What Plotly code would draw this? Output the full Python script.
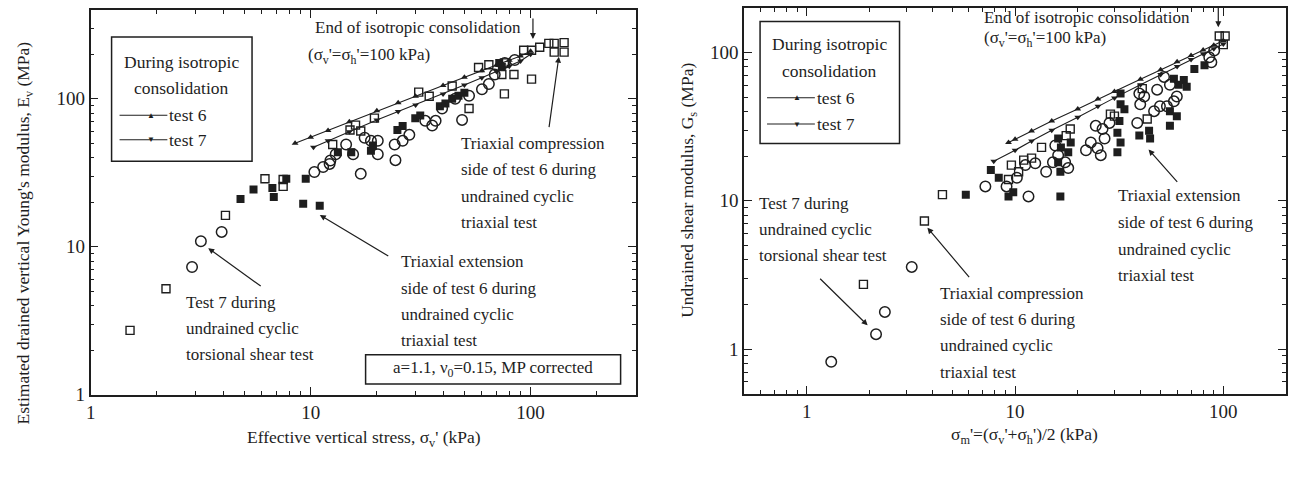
import math
import plotly.graph_objects as go

# ---------------- data ----------------
# Left panel: estimated drained vertical Young's modulus Ev (MPa) vs sigma_v' (kPa)
L_t6_x = [8.5, 10, 12, 15, 20, 25, 30, 40, 50, 60, 70, 80, 90, 100]
L_t6_y = [50, 55, 61, 70, 83, 94, 104, 123, 140, 155, 169, 182, 195, 210]
L_t7_x = [10.3, 12, 15, 20, 25, 30, 40, 50, 60, 70, 80, 90, 100]
L_t7_y = [47, 52, 60, 72, 82, 91, 108, 124, 139, 153, 166, 180, 200]

L_comp_x = [1.51, 2.2, 4.1, 6.2, 7.5, 7.5, 12.6, 15.1, 16.0, 16.9, 19.5, 31, 34.6, 44, 52.5,
            58, 64.6, 74, 76, 84, 101, 76, 93, 101, 110, 121, 128, 142, 128, 142]
L_comp_y = [2.72, 5.2, 16.3, 28.8, 25.6, 28.5, 49.1, 61.5, 66.4, 60.6, 74, 111, 104, 122, 86,
            163, 170, 146, 108, 146, 136, 175, 213, 213, 223, 237, 237, 240, 207, 207]

L_ext_x = [4.8, 5.5, 6.7, 6.8, 7.75, 9.5, 9.25, 11.0, 13.3, 15.3, 18.8, 19.2, 24.8, 26.2,
           29.9, 31.5, 38.7, 41, 44, 47, 50, 72, 74]
L_ext_y = [21, 24.4, 25, 21.7, 28.8, 28.8, 19.5, 18.9, 43.5, 43.5, 44.5, 48.3, 61.5, 65.5,
           74, 77, 89, 93, 100, 105, 110, 175, 165]

L_tor_x = [2.89, 3.17, 3.94, 10.4, 11.4, 12.3, 12.2, 13.0, 14.5, 15.6, 16.9, 17.6, 18.8, 20.2,
           20.2, 24.3, 24.1, 26.2, 28.1, 33.2, 35.7, 37, 48.8, 39.6, 45.4, 52.5, 60.1, 64.6,
           68.7, 76.3, 84.7]
L_tor_y = [7.3, 10.9, 12.6, 32, 34.6, 38.3, 36.3, 42.2, 49.1, 42.2, 31.1, 54.6, 52.1, 52.1,
           42.2, 38.5, 49.1, 52.0, 57.1, 71, 66, 71, 72, 86, 100, 105, 116, 126,
           146, 175, 183]

# Right panel: undrained shear modulus Gs (MPa) vs sigma_m' (kPa)
R_t6_x = [9.3, 10, 12, 15, 20, 25, 30, 40, 50, 60, 70, 80, 90, 100]
R_t6_y = [24.7, 26, 29.5, 34.5, 41.5, 48.5, 54.5, 66, 76.5, 86.5, 95.5, 104, 112, 120]
R_t7_x = [7.9, 10, 12, 15, 20, 25, 30, 40, 50, 60, 70, 80, 90, 100]
R_t7_y = [18.5, 21.9, 25.3, 29.9, 36.6, 43.3, 49.4, 60.6, 70.9, 80.5, 89.5, 98, 106, 114]

R_comp_x = [1.87, 3.67, 4.48, 9.3, 9.6, 11.0, 12.0, 10.4, 13.4, 17.6, 18.4, 95.6, 102, 100,
            28.7, 30.0, 40.8, 43.1]
R_comp_y = [2.73, 7.3, 11.0, 13.9, 17.4, 18.8, 19.4, 15.7, 22.9, 27.5, 30.5, 129, 129, 113,
            38.4, 37.2, 57.0, 35.6]

R_tor_x = [1.31, 2.15, 2.37, 3.19, 7.2, 9.1, 10.2, 11.2, 12.5, 11.6, 14.1, 15.2, 15.6, 16.1,
           17.4, 18.0, 21.9, 23.1, 24.4, 24.9, 25.8, 26.3, 26.9, 28.4, 38.6, 39.5, 39.9, 41.7,
           46.5, 48.1, 49.6, 51.9, 53.6, 55.4, 57.9, 59.8, 85.6, 87.6, 90.4]
R_tor_y = [0.82, 1.26, 1.78, 3.58, 12.5, 12.5, 14.3, 17.4, 17.9, 10.7, 15.7, 18.2, 23.6, 20.3,
           18.2, 16.6, 21.9, 24.7, 32.0, 22.6, 20.3, 30.5, 26.3, 33.5, 33.5, 52.8, 44.7, 50.5,
           40.2, 56.1, 43.4, 68.4, 43.4, 60.6, 46.8, 50.5, 92.7, 85.9, 103]

R_ext_x = [5.8, 7.65, 8.35, 9.3, 9.8, 16.1, 18.5, 16.6, 18.0, 16.1, 16.5, 16.5, 31.0, 31.7,
           32.1, 32.1, 33.5, 31.0, 32.1, 39.5, 44.0, 44.5, 55.4, 55.4, 59.8, 57.9, 64.6, 66.7,
           61.1, 72.6, 81.2]
R_ext_y = [11.0, 16.1, 14.3, 10.7, 11.4, 26.3, 24.7, 22.9, 21.2, 18.2, 15.7, 10.7, 21.2, 34.5,
           52.8, 44.7, 41.4, 28.7, 24.7, 27.5, 29.7, 26.3, 32.0, 40.2, 37.2, 66.4, 65.3, 58.7,
           60.6, 77.3, 82]

MAJOR_TICKS = [1, 10, 100]

# ---------------- figure ----------------
W, H = 1292, 477
FONT = "Liberation Serif"
INK = "#1e1e1e"


def px(x, y):
    return x / W, 1 - y / H


fig = go.Figure()

open_sq = dict(symbol="square-open", size=8, color=INK, line=dict(width=1.4, color=INK))
filled_sq = dict(symbol="square", size=8, color=INK)
open_ci = dict(symbol="circle-open", size=10.5, color=INK, line=dict(width=1.5, color=INK))

for xa, ya, comp, ext, tor, t6, t7 in [
    ("x", "y", (L_comp_x, L_comp_y), (L_ext_x, L_ext_y), (L_tor_x, L_tor_y),
     (L_t6_x, L_t6_y), (L_t7_x, L_t7_y)),
    ("x2", "y2", (R_comp_x, R_comp_y), (R_ext_x, R_ext_y), (R_tor_x, R_tor_y),
     (R_t6_x, R_t6_y), (R_t7_x, R_t7_y)),
]:
    fig.add_trace(go.Scatter(x=t6[0], y=t6[1], mode="lines+markers", xaxis=xa, yaxis=ya,
                             line=dict(color=INK, width=1.1),
                             marker=dict(symbol="triangle-up", size=6, color=INK),
                             showlegend=False))
    fig.add_trace(go.Scatter(x=t7[0], y=t7[1], mode="lines+markers", xaxis=xa, yaxis=ya,
                             line=dict(color=INK, width=1.1),
                             marker=dict(symbol="triangle-down", size=6, color=INK),
                             showlegend=False))
    fig.add_trace(go.Scatter(x=ext[0], y=ext[1], mode="markers", xaxis=xa, yaxis=ya,
                             marker=filled_sq, showlegend=False))
    fig.add_trace(go.Scatter(x=comp[0], y=comp[1], mode="markers", xaxis=xa, yaxis=ya,
                             marker=open_sq, showlegend=False))
    fig.add_trace(go.Scatter(x=tor[0], y=tor[1], mode="markers", xaxis=xa, yaxis=ya,
                             marker=open_ci, showlegend=False))

minor_vals = [m * 10 ** k for k in range(-1, 3) for m in range(2, 10)]


def axis(domain, rng):
    return dict(type="log", domain=domain, range=rng, showgrid=False, zeroline=False,
                showline=True, linecolor=INK, linewidth=1.6, mirror="ticks",
                ticks="inside", ticklen=8, tickwidth=1.3, tickcolor=INK,
                tickvals=MAJOR_TICKS, ticktext=[str(v) for v in MAJOR_TICKS],
                tickfont=dict(family=FONT, size=19, color=INK),
                minor=dict(ticks="inside", ticklen=4, tickwidth=1, tickcolor=INK,
                           tickvals=minor_vals, showgrid=False))


fig.update_layout(
    width=W, height=H, margin=dict(l=0, r=0, t=0, b=0),
    paper_bgcolor="white", plot_bgcolor="white",
    xaxis=axis([86 / W, 633 / W], [0, math.log10(300)]),
    yaxis=axis([1 - 404 / H, 1 - 10 / H], [0, math.log10(400)]),
    xaxis2=axis([742 / W, 1286 / W], [math.log10(0.5), math.log10(200)]),
    yaxis2=axis([1 - 403 / H, 1 - 8 / H], [math.log10(0.5), math.log10(200)]),
)
fig.layout.xaxis.anchor = "y"
fig.layout.yaxis.anchor = "x"
fig.layout.xaxis2.anchor = "y2"
fig.layout.yaxis2.anchor = "x2"

ann = []
TS = 17


def text(x, y, s, size=TS, anchor="left", angle=0):
    X, Y = px(x, y)
    ann.append(dict(x=X, y=Y, xref="paper", yref="paper", text=s, showarrow=False,
                    xanchor=anchor, yanchor="middle", textangle=angle,
                    font=dict(family=FONT, size=size, color=INK)))


def lines(x, y0, dy, rows, size=TS):
    for i, r in enumerate(rows):
        text(x, y0 + i * dy, r, size)


def arrow(hx, hy, tx, ty):
    X, Y = px(hx, hy)
    ann.append(dict(x=X, y=Y, xref="paper", yref="paper", text="", showarrow=True,
                    ax=tx - hx, ay=ty - hy, axref="pixel", ayref="pixel",
                    arrowhead=2, arrowsize=1, arrowwidth=1.2, arrowcolor=INK))


# axis titles
text(20, 238, "Estimated drained vertical Young's modulus, E<sub>v</sub> (MPa)", 17.5, "center", -90)
text(360, 449, "Effective vertical stress, σ<sub>v</sub>' (kPa)", 17.5, "center")
text(686, 195, "Undrained shear modulus, G<sub>s</sub> (MPa)", 17.5, "center", -90)
text(1023, 446, "σ<sub>m</sub>'=(σ<sub>v</sub>'+σ<sub>h</sub>')/2 (kPa)", 17.5, "center")

# left panel notes
text(309, 28, "End of isotropic consolidation")
text(302, 57, "(σ<sub>v</sub>'=σ<sub>h</sub>'=100 kPa)")
arrow(530, 40, 530, 18)
lines(456, 147, 27, ["Triaxial compression", "side of test 6 during",
                     "undrained cyclic", "triaxial test"])
arrow(556, 58, 546, 130)
lines(396, 268, 27, ["Triaxial extension", "side of test 6 during",
                     "undrained cyclic", "triaxial test"])
arrow(316, 220, 386, 262)
lines(180, 310, 26.5, ["Test 7 during", "undrained cyclic", "torsional shear test"])
arrow(204, 254, 258, 293)
text(490, 378, "a=1.1, ν<sub>0</sub>=0.15, MP corrected", TS, "center")

# right panel notes
text(981, 18, "End of isotropic consolidation")
text(981, 40, "(σ<sub>v</sub>'=σ<sub>h</sub>'=100 kPa)")
arrow(1218, 28, 1218, 6)
lines(1115, 200, 27.5, ["Triaxial extension", "side of test 6 during",
                        "undrained cyclic", "triaxial test"])
arrow(1148, 153, 1178, 187)
lines(937, 300, 27, ["Triaxial compression", "side of test 6 during",
                     "undrained cyclic", "triaxial test"])
arrow(926, 233, 969, 284)
lines(755, 208, 27, ["Test 7 during", "undrained cyclic", "torsional shear test"])
arrow(866, 333, 817, 285)

# legend boxes (drawn)
shapes = []


def rect(x0, y0, x1, y1):
    X0, Y0 = px(x0, y1)
    X1, Y1 = px(x1, y0)
    shapes.append(dict(type="rect", xref="paper", yref="paper", x0=X0, y0=Y0, x1=X1, y1=Y1,
                       line=dict(color=INK, width=1.5), fillcolor="rgba(0,0,0,0)"))


def hline(x0, x1, y):
    X0, Y = px(x0, y)
    X1, _ = px(x1, y)
    shapes.append(dict(type="line", xref="paper", yref="paper", x0=X0, y0=Y, x1=X1, y1=Y,
                       line=dict(color=INK, width=1.1)))


def legend(bx0, by0, bx1, by1, lx0, lx1, mx, ys):
    rect(bx0, by0, bx1, by1)
    cx = (bx0 + bx1) / 2
    text(cx, ys[0], "During isotropic", 17.5, "center")
    text(cx, ys[1], "consolidation", 17.5, "center")
    for yy, sym, lab in [(ys[2], "▲", "test 6"), (ys[3], "▼", "test 7")]:
        hline(lx0, lx1, yy)
        text(mx, yy, sym, 8, "center")
        text(lx1, yy, lab, 17.5)


legend(107, 38, 248, 165, 115, 163, 147, [63, 90, 118, 143])
legend(758, 22, 898, 147, 765, 813, 795, [45, 73, 100, 127])
rect(362, 363, 618, 393)

fig.update_layout(annotations=ann, shapes=shapes)
fig.write_html("out.html")
